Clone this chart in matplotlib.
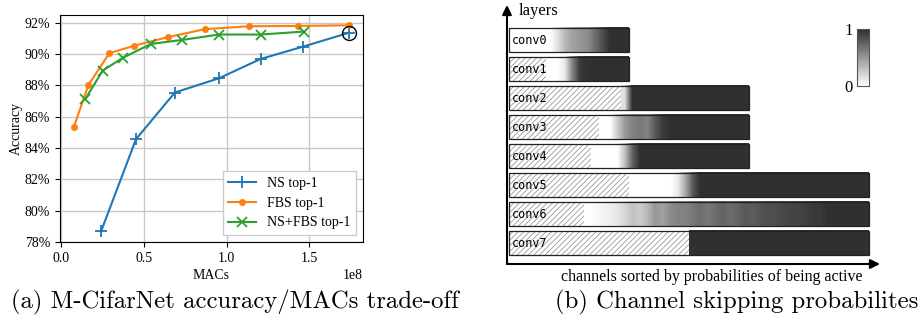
import matplotlib
matplotlib.use("Agg")
import matplotlib.pyplot as plt
import numpy as np
from matplotlib.patches import Rectangle
from matplotlib.colors import LinearSegmentedColormap
from matplotlib.ticker import PercentFormatter

# ---- (a) accuracy vs MACs ----
ns_macs = [0.241e8, 0.452e8, 0.687e8, 0.954e8, 1.205e8, 1.462e8, 1.741e8]
ns_acc = [78.68, 84.56, 87.54, 88.45, 89.68, 90.47, 91.36]
fbs_macs = [0.076e8, 0.165e8, 0.291e8, 0.442e8, 0.643e8, 0.867e8, 1.134e8, 1.430e8, 1.741e8]
fbs_acc = [85.33, 88.03, 90.05, 90.53, 91.07, 91.58, 91.77, 91.79, 91.83]
nsfbs_macs = [0.145e8, 0.251e8, 0.375e8, 0.542e8, 0.733e8, 0.954e8, 1.205e8, 1.466e8]
nsfbs_acc = [87.11, 88.94, 89.77, 90.64, 90.90, 91.24, 91.24, 91.43]

# ---- (b) channel skipping probabilities ----
layers = ["conv0", "conv1", "conv2", "conv3", "conv4", "conv5", "conv6", "conv7"]
channels = [64, 64, 128, 128, 128, 192, 192, 192]
skipped = [0, 20, 60, 48, 44, 64, 40, 96]
bin_w = 4
probs = [
    [0, 0, 0, 0, 0, 0, 0.15, 0.35, 0.45, 0.5, 0.55, 0.7, 0.85, 1, 1, 1],
    [0, 0, 0.1, 0.6, 0.95, 1, 1, 1, 1, 1, 1],
    [0.15] + [1] * 16,
    [0, 0, 0.25, 0.5, 0.6, 0.65, 0.6, 0.8, 0.95] + [1] * 11,
    [0, 0, 0, 0, 0.3, 0.75] + [1] * 15,
    [0, 0, 0, 0, 0, 0, 0.1, 0.4, 0.8] + [1] * 23,
    [0, 0.02, 0.05, 0.08, 0.12, 0.2, 0.3, 0.25, 0.35, 0.5, 0.45, 0.55, 0.6, 0.6, 0.65,
     0.7, 0.65, 0.7, 0.75, 0.7, 0.75, 0.8, 0.78, 0.82, 0.85, 0.85, 0.88, 0.9, 0.9,
     0.92, 0.95, 0.95] + [1] * 6,
    [1] * 24,
]

W, H = 919, 316
fig = plt.figure(figsize=(W / 100, H / 100), dpi=100)
serif = ["Liberation Serif", "DejaVu Serif"]
cm = ["cmr10", "DejaVu Serif"]
plt.rcParams["hatch.linewidth"] = 0.6
plt.rcParams["hatch.color"] = "#9a9a9a"


def px_axes(x0, y0, x1, y1):
    return fig.add_axes([x0 / W, 1 - y1 / H, (x1 - x0) / W, (y1 - y0) / H])


ax = px_axes(60, 15, 363, 242)
ax.plot(ns_macs, ns_acc, marker="+", ms=8, mew=1.3, lw=1.5, color="#1f77b4", label="NS top-1")
ax.plot(fbs_macs, fbs_acc, marker="o", ms=4, lw=1.5, color="#ff7f0e", label="FBS top-1")
ax.plot(nsfbs_macs, nsfbs_acc, marker="x", ms=7, mew=1.3, lw=1.5, color="#2ca02c", label="NS+FBS top-1")
ax.plot(ns_macs[-1:], ns_acc[-1:], marker="o", ms=10, mfc="none", mec="black", mew=1.0, ls="none")
ax.set_yticks(np.arange(78, 93, 2))
ax.yaxis.set_major_formatter(PercentFormatter(decimals=0))
ax.set_xticks([0, 0.5e8, 1.0e8, 1.5e8])
ax.grid(True, color="#c8c8c8", lw=1)
ax.set_axisbelow(True)
ax.tick_params(labelsize=10)
for lab in ax.get_xticklabels() + ax.get_yticklabels():
    lab.set_fontfamily(serif)
ax.xaxis.get_offset_text().set_fontfamily(serif)
ax.xaxis.get_offset_text().set_fontsize(10)
ax.set_xlabel("MACs", fontfamily=serif, fontsize=10, labelpad=3)
ax.set_ylabel("Accuracy", fontfamily=serif, fontsize=10, labelpad=1)
leg = ax.legend(loc="lower right", prop={"family": serif, "size": 10}, fancybox=False,
                edgecolor="#cccccc", framealpha=1)

fig.text(235 / W, 1 - 302 / H, "(a) M-CifarNet accuracy/MACs trade-off", ha="center", va="center",
         fontfamily=cm, fontsize=17.8)

# right panel
bx = px_axes(507, 5, 880, 264)
bx.axis("off")
bx.annotate("", xy=(1, 0), xytext=(0, 0), xycoords="axes fraction",
            arrowprops=dict(arrowstyle="-|>", lw=1.5, color="black", mutation_scale=14, shrinkA=0, shrinkB=0))
bx.annotate("", xy=(0, 1), xytext=(0, 0), xycoords="axes fraction",
            arrowprops=dict(arrowstyle="-|>", lw=1.5, color="black", mutation_scale=14, shrinkA=0, shrinkB=0))
bx.text(0.03, 0.975, "layers", transform=bx.transAxes, ha="left", va="center",
        fontfamily=serif, fontsize=12)

cmap = LinearSegmentedColormap.from_list("pg", ["white", "#303030"])
bar_h = 24 / 29
for i, name in enumerate(layers):
    top = i - bar_h / 2
    if skipped[i] > 0:
        bx.add_patch(Rectangle((0, top), skipped[i], bar_h, facecolor="white", edgecolor="#9a9a9a",
                               hatch="//////", lw=0))
    p = np.array(probs[i])[None, :]
    bx.imshow(p, cmap=cmap, vmin=0, vmax=1, aspect="auto", interpolation="bilinear",
              extent=(skipped[i], channels[i], top + bar_h, top))
    bx.add_patch(Rectangle((0, top), channels[i], bar_h, fill=False, edgecolor="#222222", lw=0.9,
                           joinstyle="miter"))
    bx.text(1.5, i, name, ha="left", va="center", fontfamily="DejaVu Sans Mono", fontsize=8.5)
bx.set_xlim(-1, 198)
bx.set_ylim(7.72, -1.21)

bx.text(0.55, -0.05, "channels sorted by probabilities of being active", transform=bx.transAxes,
        ha="center", va="center", fontfamily=serif, fontsize=11.5)
fig.text(737 / W, 1 - 302 / H, "(b) Channel skipping probabilites", ha="center", va="center",
         fontfamily=cm, fontsize=17.8)

# colorbar
cx = px_axes(857, 29, 869, 86)
cx.imshow(np.linspace(1, 0, 64)[:, None], cmap=cmap, aspect="auto", extent=(0, 1, 0, 1))
cx.set_xticks([])
cx.set_yticks([0, 1])
cx.set_yticklabels(["0", "1"], fontfamily=serif, fontsize=12)
cx.tick_params(axis="y", length=0, pad=3)
for s in cx.spines.values():
    s.set_color("#555555")

fig.savefig("out.png", dpi=100)
